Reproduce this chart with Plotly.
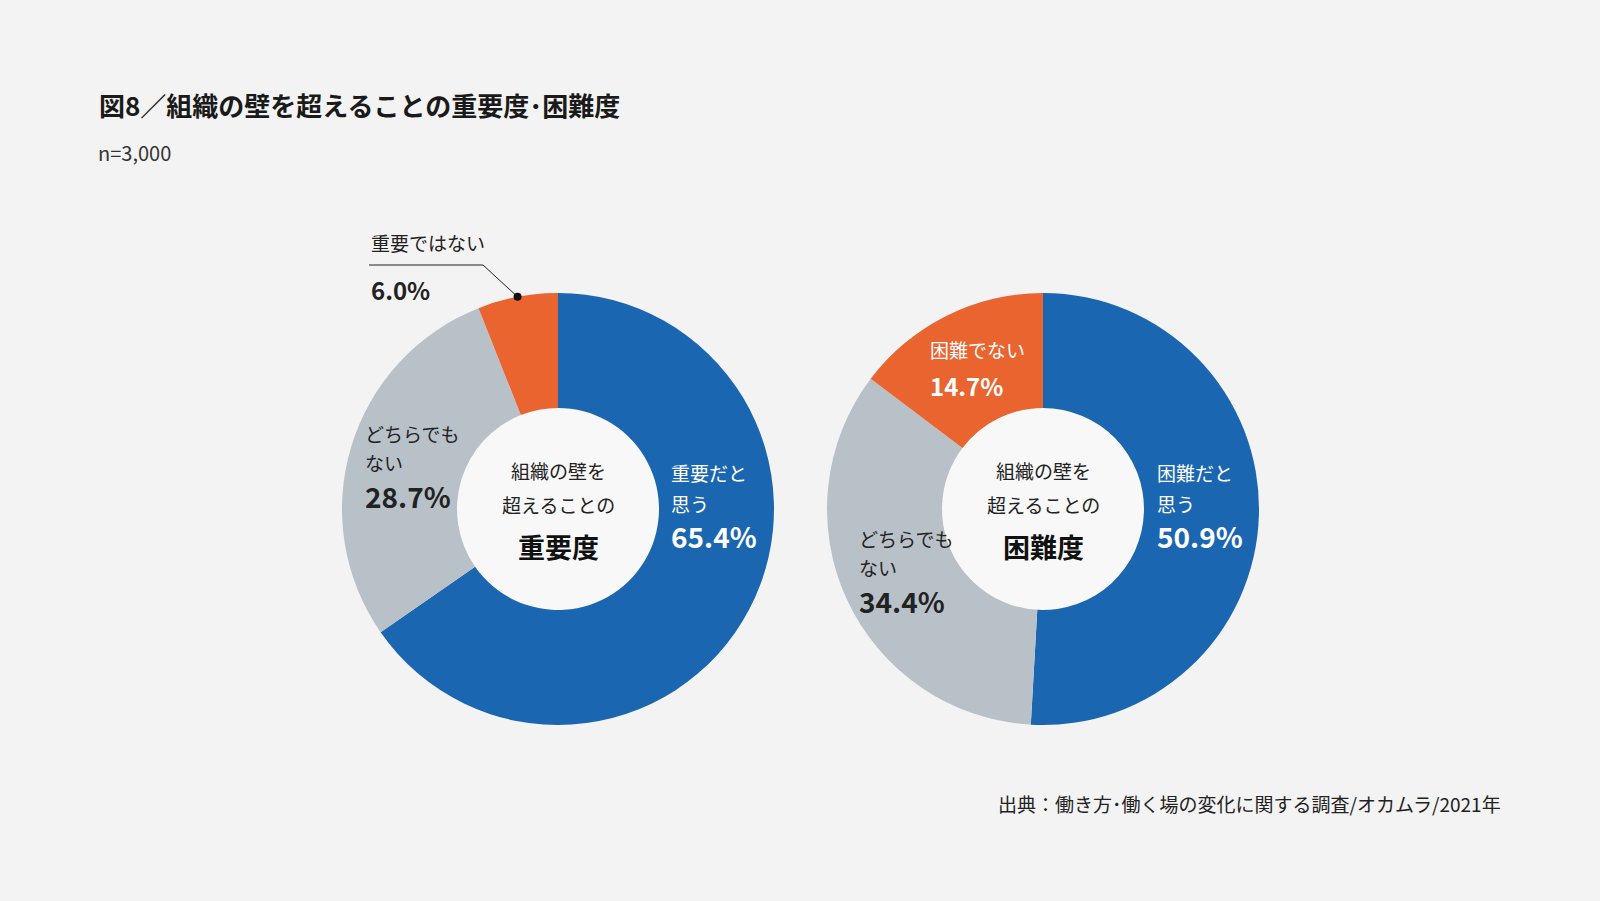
import math
import plotly.graph_objects as go

# データ
categories_imp = ["重要だと思う", "どちらでもない", "重要ではない"]
values_imp = [65.4, 28.7, 6.0]
categories_dif = ["困難だと思う", "どちらでもない", "困難でない"]
values_dif = [50.9, 34.4, 14.7]
colors = ["#1b66b1", "#b9c1c8", "#e9642f"]

W, H = 1600, 901
BG = "#f3f3f3"
FONT = "Noto Sans CJK JP"
R = 216          # 外径(px)
R_HOLE = 101     # 穴の半径(px)
centers = [(558, 509), (1043, 509)]


def px(x, y):
    return x / W, 1 - y / H


def pct(v):
    return f"{v:.1f}%"


fig = go.Figure()
for (cx, cy), cats, vals in [(centers[0], categories_imp, values_imp),
                             (centers[1], categories_dif, values_dif)]:
    x0, y1 = px(cx - R, cy - R)
    x1, y0 = px(cx + R, cy + R)
    fig.add_trace(go.Pie(
        labels=cats, values=vals, sort=False, direction="clockwise",
        rotation=0, hole=R_HOLE / R, textinfo="none", hoverinfo="label+value",
        marker=dict(colors=colors, line=dict(width=0)),
        domain=dict(x=[x0, x1], y=[y0, y1]), showlegend=False,
    ))
    # 中央の白い円
    hx0, hy1 = px(cx - R_HOLE, cy - R_HOLE)
    hx1, hy0 = px(cx + R_HOLE, cy + R_HOLE)
    fig.add_shape(type="circle", xref="paper", yref="paper", layer="below",
                  x0=hx0, x1=hx1, y0=hy0, y1=hy1,
                  fillcolor="#f8f8f8", line=dict(width=0))

ann = []


def text(x, y, s, size=19, color="#222222", bold=False, anchor="left"):
    xx, yy = px(x, y)
    if bold:
        s = f"<b>{s}</b>"
    ann.append(dict(x=xx, y=yy, xref="paper", yref="paper", text=s,
                    showarrow=False, xanchor=anchor, yanchor="middle",
                    font=dict(family=FONT, size=size, color=color)))


# タイトル等
text(97, 104, "図8／組織の壁を超えることの重要度･困難度", size=26, bold=True, color="#1a1a1a")
text(96, 153, "n=3,000", size=20, color="#333333")
text(1503, 803, "出典：働き方･働く場の変化に関する調査/オカムラ/2021年", size=19,
     color="#222222", anchor="right")

# 左: 重要度
text(669, 472, "重要だと", color="white")
text(669, 503, "思う", color="white")
text(669, 536, pct(values_imp[0]), size=28, bold=True, color="white")
text(363, 433, "どちらでも")
text(363, 462, "ない")
text(363, 496, pct(values_imp[1]), size=28, bold=True)
text(369, 242, "重要ではない")
text(369, 290, pct(values_imp[2]), size=24, bold=True)

# 右: 困難度
text(1155, 472, "困難だと", color="white")
text(1155, 503, "思う", color="white")
text(1155, 536, pct(values_dif[0]), size=28, bold=True, color="white")
text(857, 538, "どちらでも")
text(857, 567, "ない")
text(857, 601, pct(values_dif[1]), size=28, bold=True)
text(928, 349, "困難でない", color="white")
text(928, 385, pct(values_dif[2]), size=24, bold=True, color="white")

# 中央
for (cx, cy), word in zip(centers, ["重要度", "困難度"]):
    text(cx, 470, "組織の壁を", size=19, anchor="center")
    text(cx, 504, "超えることの", size=19, anchor="center")
    text(cx, 546, word, size=27, bold=True, anchor="center", color="#111111")

fig.update_layout(annotations=ann)

# 「重要ではない」の引き出し線
cx, cy = centers[0]
start = sum(values_imp[:2]) / sum(values_imp)
mid = (start + 1) / 2 * 2 * math.pi
dx, dy = cx + R * math.sin(mid), cy - R * math.cos(mid)
elbow = (483, 265)
for (ax, ay), (bx, by) in [((369, 265), elbow), (elbow, (dx, dy))]:
    a0, a1 = px(ax, ay)
    b0, b1 = px(bx, by)
    fig.add_shape(type="line", xref="paper", yref="paper", x0=a0, y0=a1, x1=b0, y1=b1,
                  line=dict(color="#222222", width=1))
d0, d1 = px(dx - 4, dy - 4)
d2, d3 = px(dx + 4, dy + 4)
fig.add_shape(type="circle", xref="paper", yref="paper", x0=d0, x1=d2, y0=d3, y1=d1,
              fillcolor="#111111", line=dict(width=0))

fig.update_layout(width=W, height=H, margin=dict(l=0, r=0, t=0, b=0),
                  paper_bgcolor=BG, plot_bgcolor=BG)
# ページ余白をなくす
fig.write_html("out.html", config={"displayModeBar": False},
               post_script="document.body.style.margin='0';document.body.style.overflow='hidden';")
